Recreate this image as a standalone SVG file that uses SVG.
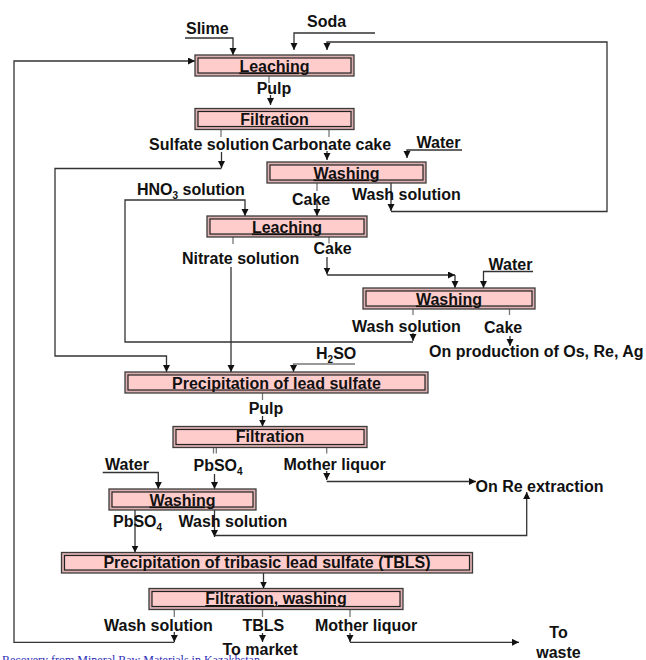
<svg xmlns="http://www.w3.org/2000/svg" width="646" height="660" viewBox="0 0 646 660">
<style>
.bo{fill:#DDB0B0;stroke:#3c3c3c;stroke-width:1.3}
.bi{fill:#FFCCCC;stroke:#222;stroke-width:1.2}
.t{font-family:"Liberation Sans",Arial,sans-serif;font-weight:bold;font-size:16px;fill:#111}
.c{text-anchor:middle}
.u{text-decoration:underline}
.ln{fill:none;stroke:#333;stroke-width:1.3}
.st{fill:none;stroke:#777;stroke-width:1.3}
.ar{marker-end:url(#ah)}
.sub{font-size:10px}
.foot{font-family:"Liberation Serif","Times New Roman",serif;font-size:12px;fill:#2B2BB8}
</style>
<defs>
<marker id="ah" markerUnits="userSpaceOnUse" markerWidth="8" markerHeight="8" refX="7" refY="3.5" orient="auto">
<path d="M0,0 L7,3.5 L0,7 z" fill="#111"/>
</marker>
</defs>
<rect width="646" height="660" fill="#fff"/>

<g id="connectors">
<polyline class="ln ar" points="185,38 233,38 233,55"/>
<polyline class="ln ar" points="375,33 294,33 294,50"/>
<line class="ln ar" x1="391" y1="183" x2="391" y2="211"/>
<polyline class="ln ar" points="391,211.5 607,211.5 607,42 327,42 327,50"/>
<line class="st" x1="174.3" y1="609.5" x2="174.3" y2="617"/>
<line class="ln ar" x1="174.3" y1="632" x2="174.3" y2="642"/>
<polyline class="ln ar" points="174.3,642.3 14,642.3 14,61 195,61"/>
<line class="st" x1="269" y1="76" x2="269" y2="83"/>
<line class="ln ar" x1="270.5" y1="95" x2="270.5" y2="105"/>
<line class="st" x1="221" y1="129.5" x2="221" y2="137"/>
<line class="ln ar" x1="221.5" y1="152" x2="221.5" y2="168"/>
<polyline class="ln ar" points="221.5,168.5 55,168.5 55,356 166.5,356 166.5,372"/>
<line class="st" x1="329" y1="129.5" x2="329" y2="137"/>
<line class="ln ar" x1="327" y1="151" x2="327" y2="160"/>
<polyline class="ln ar" points="462,150 407,150 407,158"/>
<line class="st" x1="317" y1="183" x2="317" y2="191"/>
<line class="ln ar" x1="317" y1="200" x2="317" y2="216"/>
<line class="st" x1="413" y1="309" x2="413" y2="315"/>
<line class="ln ar" x1="413" y1="333" x2="413" y2="341"/>
<polyline class="ln ar" points="413,342 125,342 125,200 245,200 245,216"/>
<line class="st" x1="233" y1="237" x2="233" y2="244"/>
<line class="ln ar" x1="231" y1="267" x2="231" y2="372"/>
<line class="st" x1="329" y1="237" x2="329" y2="243.5"/>
<line class="ln ar" x1="327" y1="257" x2="327" y2="274.5"/>
<line class="ln ar" x1="327" y1="275" x2="455" y2="275"/>
<line class="ln ar" x1="455" y1="275" x2="455" y2="288"/>
<polyline class="ln ar" points="533,271.5 483.5,271.5 483.5,288"/>
<line class="st" x1="509.5" y1="309" x2="509.5" y2="315"/>
<line class="ln ar" x1="510" y1="336" x2="510" y2="346"/>
<polyline class="st ar" points="355,364 293.5,364 293.5,372"/>
<line class="st" x1="262.5" y1="393" x2="262.5" y2="400"/>
<line class="ln ar" x1="262.5" y1="416" x2="262.5" y2="426.5"/>
<line class="st" x1="213.5" y1="447.5" x2="213.5" y2="453.5"/>
<line class="st" x1="216.3" y1="447.5" x2="216.3" y2="453.5"/>
<line class="ln ar" x1="214.5" y1="474" x2="214.5" y2="489"/>
<line class="st" x1="326.7" y1="447.5" x2="326.7" y2="453.5"/>
<line class="ln ar" x1="326.7" y1="471" x2="326.7" y2="480"/>
<line class="ln ar" x1="326.7" y1="481.5" x2="476" y2="481.5"/>
<polyline class="ln ar" points="102.7,472.5 158.3,472.5 158.3,489"/>
<line class="ln ar" x1="135" y1="510" x2="135" y2="552.5"/>
<line class="ln ar" x1="214.5" y1="510" x2="214.5" y2="537"/>
<polyline class="ln ar" points="214.5,535.5 526.7,535.5 526.7,492"/>
<line class="ln ar" x1="263.5" y1="573" x2="263.5" y2="588.5"/>
<line class="st" x1="262.5" y1="609.5" x2="262.5" y2="617"/>
<line class="ln ar" x1="262.5" y1="633" x2="262.5" y2="642"/>
<line class="st" x1="350" y1="609.5" x2="350" y2="617"/>
<line class="ln ar" x1="350" y1="633" x2="350" y2="642"/>
<line class="ln ar" x1="350" y1="642.3" x2="519" y2="642.3"/>
</g>

<g id="leaching1">
<rect class="bo" x="195" y="55" width="159" height="21"/>
<rect class="bi" x="198" y="58" width="153" height="15"/>
<text class="t c u" x="274.5" y="71.5">Leaching</text>
</g>
<g id="filtration1">
<rect class="bo" x="195" y="108.5" width="159" height="21"/>
<rect class="bi" x="198" y="111.5" width="153" height="15"/>
<text class="t c" x="274.5" y="125">Filtration</text>
</g>
<g id="washing1">
<rect class="bo" x="267" y="162" width="159" height="21"/>
<rect class="bi" x="270" y="165" width="153" height="15"/>
<text class="t c u" x="346.5" y="178.5">Washing</text>
</g>
<g id="leaching2">
<rect class="bo" x="207" y="216" width="160" height="21"/>
<rect class="bi" x="210" y="219" width="154" height="15"/>
<text class="t c u" x="287" y="232.5">Leaching</text>
</g>
<g id="washing2">
<rect class="bo" x="363" y="288" width="172" height="21"/>
<rect class="bi" x="366" y="291" width="166" height="15"/>
<text class="t c u" x="449" y="304.5">Washing</text>
</g>
<g id="precip-lead-sulfate">
<rect class="bo" x="125" y="372" width="303" height="21"/>
<rect class="bi" x="128" y="375" width="297" height="15"/>
<text class="t c" x="276.5" y="388.5">Precipitation of lead sulfate</text>
</g>
<g id="filtration2">
<rect class="bo" x="173" y="426.5" width="194" height="21"/>
<rect class="bi" x="176" y="429.5" width="188" height="15"/>
<text class="t c" x="270" y="442">Filtration</text>
</g>
<g id="washing3">
<rect class="bo" x="109" y="489" width="147" height="21"/>
<rect class="bi" x="112" y="492" width="141" height="15"/>
<text class="t c u" x="182.5" y="505.5">Washing</text>
</g>
<g id="precip-tbls">
<rect class="bo" x="61.5" y="552.5" width="411" height="20.5"/>
<rect class="bi" x="64.5" y="555.5" width="405" height="14.5"/>
<text class="t c" x="267" y="568">Precipitation of tribasic lead sulfate (TBLS)</text>
</g>
<g id="filtration-washing">
<rect class="bo" x="149" y="588.5" width="254" height="21"/>
<rect class="bi" x="152" y="591.5" width="248" height="15"/>
<text class="t c u" x="276" y="604">Filtration, washing</text>
</g>

<g id="labels">
<text class="t" x="186" y="34">Slime</text>
<text class="t" x="307" y="27">Soda</text>
<text class="t c" x="274" y="94">Pulp</text>
<text class="t" x="149" y="150">Sulfate solution</text>
<text class="t" x="272" y="150">Carbonate cake</text>
<text class="t" x="416.5" y="147.5">Water</text>
<text class="t" x="292" y="205">Cake</text>
<text class="t" x="352" y="199.5">Wash solution</text>
<text class="t" x="137" y="195">HNO<tspan class="sub" dy="4">3</tspan><tspan dy="-4"> solution</tspan></text>
<text class="t" x="313.5" y="254">Cake</text>
<text class="t" x="182" y="263.5">Nitrate solution</text>
<text class="t" x="488.5" y="270">Water</text>
<text class="t" x="352" y="331.5">Wash solution</text>
<text class="t" x="484" y="333">Cake</text>
<text class="t" x="429" y="356.5">On production of Os, Re, Ag</text>
<text class="t" x="316" y="359">H<tspan class="sub" dy="4">2</tspan><tspan dy="-4">SO</tspan></text>
<text class="t c" x="266" y="414">Pulp</text>
<text class="t" x="193.5" y="471">PbSO<tspan class="sub" dy="4">4</tspan></text>
<text class="t" x="283.5" y="469.5">Mother liquor</text>
<text class="t" x="105" y="469.5">Water</text>
<text class="t" x="475.5" y="491.5">On Re extraction</text>
<text class="t" x="113" y="527">PbSO<tspan class="sub" dy="4">4</tspan></text>
<text class="t" x="178.5" y="526.5">Wash solution</text>
<text class="t" x="104" y="631">Wash solution</text>
<text class="t" x="242.5" y="631">TBLS</text>
<text class="t" x="315" y="631">Mother liquor</text>
<text class="t" x="222.5" y="654.5">To market</text>
<text class="t c" x="558.5" y="638">To</text>
<text class="t c" x="558.5" y="658">waste</text>
<text class="foot" x="2" y="664">Recovery from Mineral Raw Materials in Kazakhstan</text>
</g>
</svg>
